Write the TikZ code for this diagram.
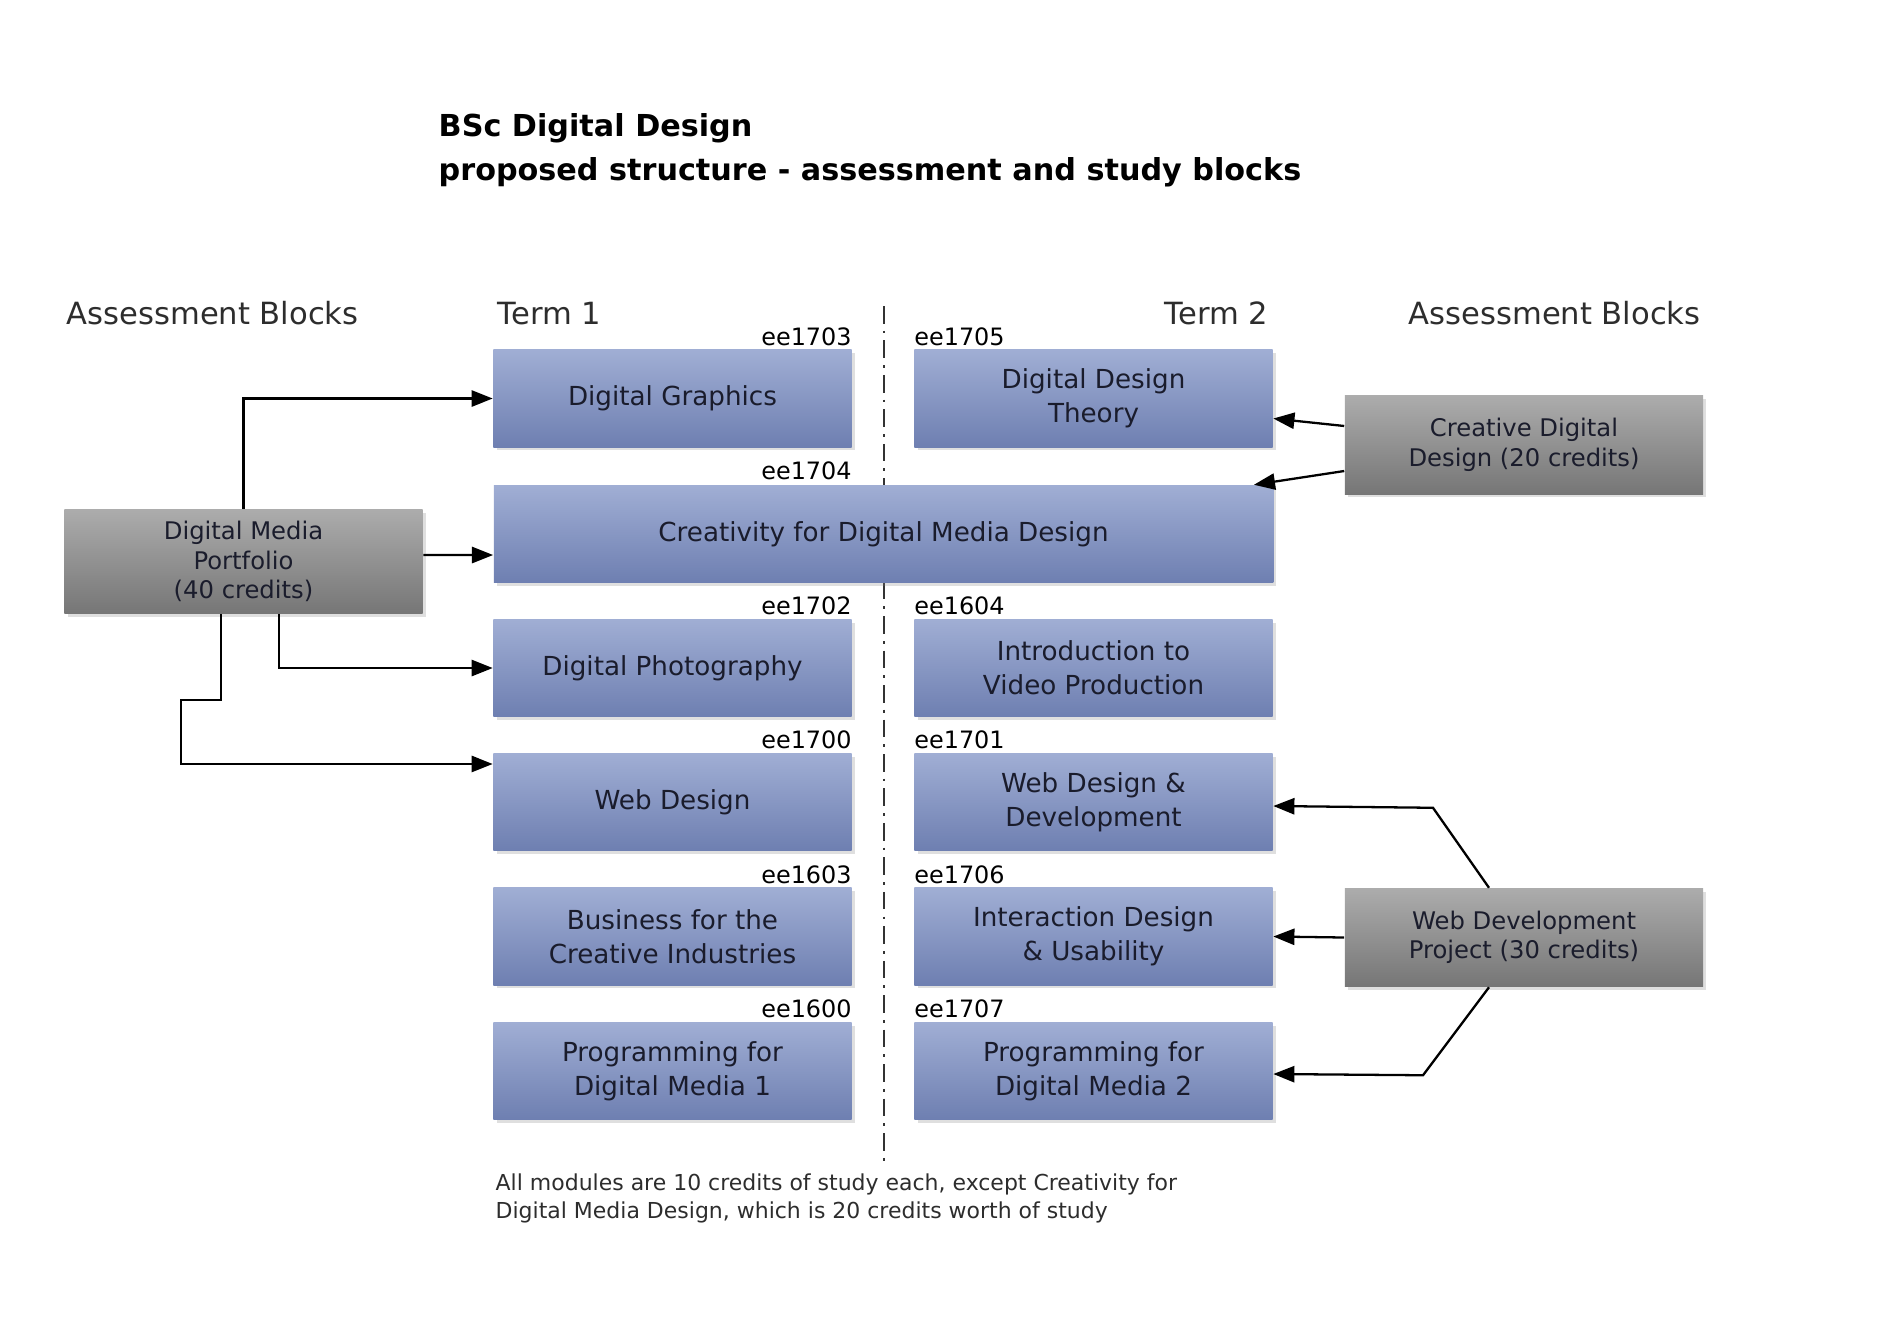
\documentclass[tikz,border=0pt]{standalone}
\usepackage{fontspec}
\setmainfont{DejaVu Sans}
\usetikzlibrary{arrows.meta, shadows}
\definecolor{modtop}{RGB}{160,174,212}
\definecolor{modbot}{RGB}{110,127,177}
\definecolor{asmtop}{RGB}{172,172,172}
\definecolor{asmbot}{RGB}{118,118,118}
\definecolor{modtext}{RGB}{26,28,44}
\definecolor{headtext}{RGB}{45,45,45}
\newcommand{\modfont}{\fontsize{7.45}{9.6}\selectfont}
\newcommand{\asmfont}{\fontsize{6.9}{8.4}\selectfont}
\newcommand{\headfont}{\fontsize{8.7}{10}\selectfont}
\newcommand{\codefont}{\fontsize{6.8}{8}\selectfont}
\newcommand{\ttlfont}{\fontsize{8.6}{10}\selectfont\bfseries}
\newcommand{\notefont}{\fontsize{6.25}{7.5}\selectfont}

\begin{document}
\begin{tikzpicture}[x=0.01cm, y=-0.01cm,
    modbox/.style={rectangle, minimum width=3.58cm, minimum height=0.97cm,
        top color=modtop, bottom color=modbot, text=modtext, align=center,
        font=\modfont, drop shadow={shadow xshift=0.9pt, shadow yshift=-0.9pt, opacity=0.25}},
    asmbox/.style={modbox, top color=asmtop, bottom color=asmbot, font=\asmfont,
        minimum height=0.98cm},
    code/.style={font=\codefont, inner sep=0pt, text=black},
    head/.style={font=\headfont, inner sep=0pt, text=headtext},
    ttl/.style={font=\ttlfont, inner sep=0pt, text=black},
    note/.style={font=\notefont, inner sep=0pt, text=headtext},
    arr/.style={line width=0.65pt, -{Triangle[length=6pt,width=4.6pt]}},
    divider/.style={line width=0.45pt, black!80, dash pattern=on 5pt off 2pt on 0.8pt off 2pt}]
    \useasboundingbox (0,0) rectangle (1880,1318);

    % Title
    \node[ttl, anchor=base west] (t1) at (438,136) {BSc Digital Design};
    \node[ttl, anchor=base west] (t2) at (438,180) {proposed structure - assessment and study blocks};

    % Column headings
    \node[head, anchor=base west] (hleft) at (66,324) {Assessment Blocks};
    \node[head, anchor=base west] (hterm1) at (497,324) {Term 1};
    \node[head, anchor=base east] (hterm2) at (1269,324) {Term 2};
    \node[head, anchor=base west] (hright) at (1408,324) {Assessment Blocks};

    % Term divider
    \coordinate (divtop) at (884,306);
    \coordinate (divbot) at (884,1161);
    \draw[divider] (divtop) -- (divbot);

    % Term 1 modules
    \node[modbox] (dg) at (672.5,398.5) {Digital Graphics};
    \node[modbox, minimum width=7.79cm] (cdm) at (883.5,534) {Creativity for Digital Media Design};
    \node[modbox] (dp) at (672.5,668) {Digital Photography};
    \node[modbox] (wd) at (672.5,802) {Web Design};
    \node[modbox] (bci) at (672.5,936.5) {Business for the\\Creative Industries};
    \node[modbox] (pdm1) at (672.5,1071) {Programming for\\Digital Media 1};

    % Term 2 modules
    \node[modbox] (ddt) at (1093.5,398.5) {Digital Design\\Theory};
    \node[modbox] (ivp) at (1093.5,668) {Introduction to\\Video Production};
    \node[modbox] (wdd) at (1093.5,802) {Web Design \&\\Development};
    \node[modbox] (idu) at (1093.5,936.5) {Interaction Design\\\& Usability};
    \node[modbox] (pdm2) at (1093.5,1071) {Programming for\\Digital Media 2};

    % Module codes
    \node[code, anchor=base east] (c1703) at ([yshift=1.2pt]dg.north east) {ee1703};
    \node[code, anchor=base east] (c1704) at ([yshift=1.4pt]cdm.north -| dg.east) {ee1704};
    \node[code, anchor=base east] (c1702) at ([yshift=1.2pt]dp.north east) {ee1702};
    \node[code, anchor=base east] (c1700) at ([yshift=1.2pt]wd.north east) {ee1700};
    \node[code, anchor=base east] (c1603) at ([yshift=1.2pt]bci.north east) {ee1603};
    \node[code, anchor=base east] (c1600) at ([yshift=1.2pt]pdm1.north east) {ee1600};
    \node[code, anchor=base west] (c1705) at ([yshift=1.2pt]ddt.north west) {ee1705};
    \node[code, anchor=base west] (c1604) at ([yshift=1.2pt]ivp.north west) {ee1604};
    \node[code, anchor=base west] (c1701) at ([yshift=1.2pt]wdd.north west) {ee1701};
    \node[code, anchor=base west] (c1706) at ([yshift=1.2pt]idu.north west) {ee1706};
    \node[code, anchor=base west] (c1707) at ([yshift=1.2pt]pdm2.north west) {ee1707};

    % Assessment blocks
    \node[asmbox] (dmp) at (243.5,561.5) {Digital Media\\Portfolio\\(40 credits)};
    \node[asmbox] (cdd) at (1524,445) {Creative Digital\\Design (20 credits)};
    \node[asmbox] (wdp) at (1524,937.5) {Web Development\\Project (30 credits)};

    % Portfolio links
    \draw[arr] (dmp.north) |- (dg.west);
    \draw[arr] ([yshift=0.065cm]dmp.east) -- ([yshift=-0.21cm]cdm.west);
    \draw[arr] ([xshift=0.355cm]dmp.south) |- (dp.west);
    \draw[arr] ([xshift=-0.225cm]dmp.south) -- ++(0,86) -- ++(-40,0) |- ([yshift=0.38cm]wd.west);

    % Creative design links
    \draw[arr] ([yshift=0.19cm]cdd.west) -- ([yshift=-0.2cm]ddt.east);
    \draw[arr] ([yshift=-0.26cm]cdd.west) -- ([xshift=-0.2cm]cdm.north east);

    % Web project links
    \draw[arr] ([xshift=-0.35cm]wdp.north) -- ++(-56,-80) -- ([yshift=-0.04cm]wdd.east);
    \draw[arr] (wdp.west) -- (idu.east);
    \draw[arr] ([xshift=-0.35cm]wdp.south) -- ++(-66,88) -- ([yshift=-0.03cm]pdm2.east);

    % Footnote
    \node[note, anchor=base west] (fn1) at (495,1190) {All modules are 10 credits of study each, except Creativity for};
    \node[note, anchor=base west] (fn2) at (495,1218) {Digital Media Design, which is 20 credits worth of study};
\end{tikzpicture}
\end{document}
